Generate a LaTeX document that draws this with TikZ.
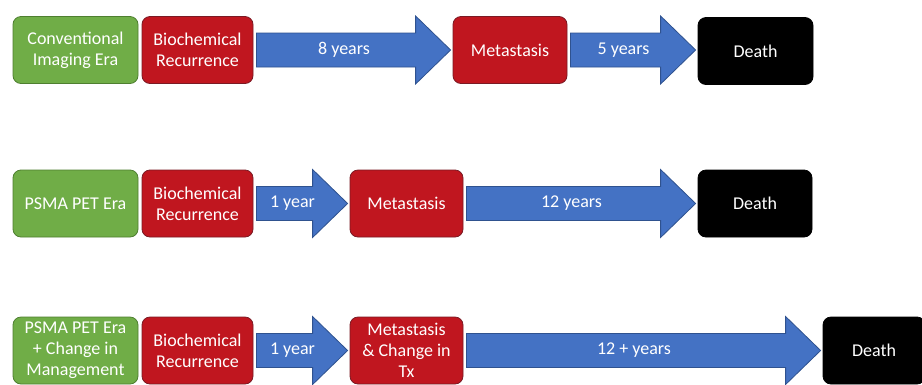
\documentclass[tikz,border=0pt]{standalone}
\usepackage{fontspec}
\setmainfont{Carlito}
\usetikzlibrary{calc}
\definecolor{grn}{HTML}{70AD47}
\definecolor{grnline}{HTML}{4E7F30}
\definecolor{redf}{HTML}{C0161F}
\definecolor{redline}{HTML}{7A1A24}
\definecolor{blu}{HTML}{4472C4}
\definecolor{bluline}{HTML}{2F528F}
\tikzset{
  box/.style={rounded corners=8pt, text=white, font=\fontsize{18}{21}\selectfont,
    align=center, inner sep=0pt, line width=0.8pt, minimum height=67pt},
  era/.style={box, fill=grn, draw=grnline},
  evt/.style={box, fill=redf, draw=redline},
  death/.style={box, fill=black, draw=black},
  barrow/.style={fill=blu, draw=bluline, line width=0.8pt, line join=miter},
  alabel/.style={text=white, font=\fontsize{18}{21}\selectfont, inner sep=0pt}
}
% box: style, name, x1, x2, ycenter, text
\newcommand\bx[6]{\node[#1, minimum width={#4-#3}] (#2) at ({(#3+#4)/2},#5) {#6};}
% block arrow from node #1 to node #2, label #3
\newcommand\barr[3]{%
  \draw[barrow] let \p1=($(#1.east)+(3pt,0)$), \p2=($(#2.west)+(-2pt,0)$),
    \n1={\x2-35pt} in
    (\x1,\y1+17pt) -- (\n1,\y1+17pt) -- (\n1,\y1+34pt) -- (\x2,\y1)
    -- (\n1,\y1-34pt) -- (\n1,\y1-17pt) -- (\x1,\y1-17pt) -- cycle
    node[alabel] at ({(\x1+\n1)/2+8pt},\y1) {#3};}
\begin{document}
\begin{tikzpicture}[x=1pt,y=-1pt]
\clip (0,0) rectangle (922,384);
\fill[white] (0,0) rectangle (922,384);
% row 1
\bx{era}{g1}{13}{138}{50}{Conventional\\Imaging Era}
\bx{evt}{b1}{142}{253}{50}{Biochemical\\Recurrence}
\bx{evt}{m1}{453}{567}{50}{Metastasis}
\bx{death}{d1}{698}{813}{51}{Death}
\barr{b1}{m1}{8 years}
\barr{m1}{d1}{5 years}
% row 2
\bx{era}{g2}{13}{138}{203.5}{PSMA PET Era}
\bx{evt}{b2}{142}{253}{203.5}{Biochemical\\Recurrence}
\bx{evt}{m2}{350}{463}{203.5}{Metastasis}
\bx{death}{d2}{698}{812}{203.5}{Death}
\barr{b2}{m2}{1 year}
\barr{m2}{d2}{12 years}
% row 3
\bx{era}{g3}{13}{138}{350.5}{PSMA PET Era\\+ Change in\\Management}
\bx{evt}{b3}{142}{253}{350.5}{Biochemical\\Recurrence}
\bx{evt}{m3}{350}{463}{350.5}{Metastasis\\\& Change in\\Tx}
\bx{death}{d3}{823}{925}{350.5}{Death}
\barr{b3}{m3}{1 year}
\barr{m3}{d3}{12 + years}
\end{tikzpicture}
\end{document}
